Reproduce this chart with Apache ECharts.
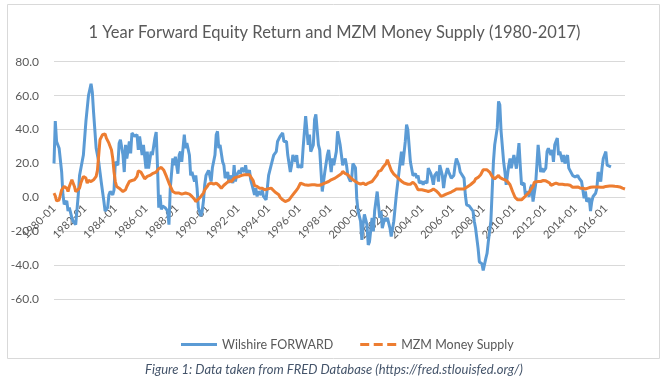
<!DOCTYPE html>
<html>
<head>
<meta charset="utf-8">
<script src="https://cdn.jsdelivr.net/npm/echarts@6/dist/echarts.min.js"></script>
<style>
html,body{margin:0;padding:0;background:#fff;}
#c{width:669px;height:387px;}
</style>
</head>
<body>
<div id="c"></div>
<script>
// x = months since 1980-01
var tickLabels = ['1980-01','1982-01','1984-01','1986-01','1988-01','1990-01','1992-01','1994-01','1996-01','1998-01','2000-01','2002-01','2004-01','2006-01','2008-01','2010-01','2012-01','2014-01','2016-01'];

var wilshireMonths = [0,1,2,4,6,7,8,10,11,12,14,15,17,19,20,21,23,25,27,29,30,31,32,33,35,37,39,40,42,43,44,46,47,48,50,51,52,54,55,56,57,59,60,61,63,65,66,67,69,70,72,73,74,76,77,79,80,81,82,83,84,85,87,88,89,90,91,93,94,95,97,98,99,100,102,103,104,106,107,108,110,111,112,113,115,116,117,118,119,121,122,123,124,126,127,128,129,130,132,133,134,136,137,138,140,141,142,143,145,146,147,149,150,151,153,154,155,157,158,159,160,162,163,164,166,167,168,170,172,174,175,177,179,180,181,182,183,185,186,187,189,190,191,192,194,195,197,199,200,201,203,204,205,207,208,210,211,212,214,215,217,218,219,221,222,224,225,226,228,229,230,232,233,234,236,237,238,240,241,242,243,245,246,247,249,250,251,252,253,255,256,257,259,260,261,263,264,266,268,271,272,273,275,276,277,279,280,281,283,284,285,286,288,289,290,292,293,295,296,297,298,300,301,302,304,305,306,308,309,310,311,313,314,315,317,318,319,321,322,323,325,326,328,329,330,332,333,334,335,336,338,339,340,342,343,344,345,347,348,349,350,352,353,354,356,357,358,359,360,361,362,364,365,366,368,369,370,372,373,374,375,377,378,379,381,382,383,385,386,387,389,390,391,392,394,395,396,398,399,400,402,403,404,406,407,408,410,411,412,413,415,416,417,419,420,421,422,424,425,426,428,429,430,432,433,434,436];
var wilshireValues = [20,45,33,29,15,1.6,-4,-2,-8,-6,-12,-14,-16,1.6,13,14,25,45,60,67,62,50,49,29,21,9,-2,-8,-6,1.6,3.5,1.6,4.5,21,19,32,34,25,15,31,23,33,26,38,36,37,28,36,25,31,17,27,17,27,25,35,38.5,19,-6,1.6,-7,-5,-6,-5,-8,-16,5,23,19,24,14,25,27,21,37,29,32,25,13,15,9.4,13,5.5,-6,-11,-8,-2,7.5,13,16,15,9.4,17.5,25,37,39,29,31,21,19,11.4,15,8.5,13,8.5,19,9.4,13,16,14,17.5,15,19,14,16,10.4,7.5,1.6,5.5,0.6,3.5,1.6,4.5,0.6,-1.4,5.5,13,19,25,27,33,36,38,33,32,33,25,15,19,25,21,25,17.5,19,17.5,29,48,31,37,27,31,46,49,31,28,3.5,9.4,15,25,28,15,23,19,27,39,31,25,19,23,19,13,9.4,11,20,17.5,-0.4,-8,-14,-25,-16,-10,-16,-28,-26,-12,-20,-8,-8,3.5,-12,-8,-18,-12,-14,-12,-18,-23,-14,1.6,21,27,19,33,43,40,21,20,13,14,11.4,13,8.5,9.4,7.5,9.4,8.5,17.3,14,11.4,7.5,13,15,9.4,19,13,5.5,11.4,17.3,15,16,11.4,13,19,23,19,15,16,11.4,1.6,-4.3,-5,-6,-8,-14,-18,-30,-38,-39,-39,-43,-36,-33,-26,-14,3.5,21,31,41,56.6,54.6,39,21,15,7.5,19,23,17.3,21,25,21,17,32,19,7.5,8.5,1.6,3.5,0.6,5.5,7.5,-2.4,7.5,19,31,15,17.3,15,17.3,27,29,25,28,21,31,35,25,27,21,25,20,25,17.3,18,13,14,12,13,11.4,12,9.4,-0.4,3.5,-2.4,-0.4,-8,-2.4,0.6,2.5,5.5,15,9.4,17.3,23,27,19,19,18];

var mzmMonths = [0,1,2,4,5,6,8,10,11,12,14,15,16,17,20,21,23,25,26,27,29,31,33,34,35,36,38,40,41,43,45,46,47,48,49,51,52,54,56,57,59,61,63,65,66,68,70,71,73,75,77,80,82,84,86,88,90,93,95,98,100,103,106,108,110,111,113,115,117,118,120,121,123,125,127,129,131,133,135,137,139,141,143,145,147,149,151,153,154,156,157,159,161,163,165,167,170,171,173,176,177,179,181,182,184,186,187,189,191,193,194,196,199,200,202,204,206,208,210,212,215,217,220,223,225,226,228,230,232,234,236,238,240,242,244,246,247,249,251,253,254,256,258,260,261,262,264,266,268,270,272,274,277,279,281,283,285,286,288,289,291,293,295,297,299,301,303,305,307,309,311,313,315,317,318,321,322,324,326,329,330,332,334,336,337,339,341,343,345,346,348,349,351,353,355,357,359,361,363,364,366,368,370,372,373,375,376,379,381,383,385,388,389,391,393,395,398,400,402,404,406,407,410,412,414,416,418,420,422,424,426,428,430,432,435,437,439,441,443,445,447];
var mzmValues = [2.6,1,-2,-1.5,1.6,4.5,6.5,5.5,3.5,6.5,10.4,11.4,6.5,3.5,5.5,8.5,12.4,11.4,8.5,10,9.4,10.4,12.4,16,25,34,37,37.5,35,32,28,23,15,9.4,6.5,5.5,4.5,3.5,4.5,6.5,9.4,10,10.4,12.4,15.7,15,12.4,11,12.4,13,14,15,17,17.7,16,12.4,8.5,3.5,2.6,2.6,2,2.6,2,0.6,-1,-2.4,-1,0.6,2.6,4.5,6.5,7.8,8.5,7.8,8.5,7.2,5.5,7.2,8.5,9.8,9.4,11.4,12,12.4,13,13.4,13.4,13.4,12.4,9.8,7,6.5,5.5,5.5,4.5,5,5.5,4.5,3.2,1.6,0,-1.4,-2.4,-3,-1.4,0.6,1.6,3.5,5.5,8.5,7.8,7.5,7.2,7.8,7.5,7.5,7.2,7.2,7.8,8.5,9.4,10.4,11.4,13,14,15.3,14,13.4,11.8,10.4,9.4,8.5,7.8,8.5,7.5,8.5,8.5,9.4,11.4,13.4,15.3,16,18.3,20,22.2,20,16,13.8,12.4,11,9.6,8.5,7.8,7.8,9,7.5,4.5,3.5,4.5,5.5,4,3.5,4,5,4,2.6,0.6,1.2,2,2.6,3.2,4,5,5,4.5,5,5.5,6.5,7.5,9.4,11,11.8,13.4,16.3,17.3,16.3,15,12.4,11,11.8,13,11.8,11,10.4,9.4,7.5,3.5,0,-1.4,-2.4,-1.4,0,1.6,3,4.5,6.5,9,9.4,9.4,10,9.8,8.5,7.2,7.8,8.5,7.8,7.8,7.5,7.5,7.2,6,6,6.2,5.5,5.5,5,5.5,6,6.2,6.2,6.2,6,6,6.5,6.8,6.8,6.6,6.5,6.2,5.5,5];

function pairs(xs, ys){ var out=[]; for(var i=0;i<xs.length;i++){ out.push([xs[i], ys[i]]); } return out; }

var FONT = 'Lato, "Open Sans", sans-serif';
var chart = echarts.init(document.getElementById('c'), null, {renderer:'canvas'});
chart.setOption({
  animation:false,
  backgroundColor:'#ffffff',
  title:{
    text:'1 Year Forward Equity Return and MZM Money Supply (1980-2017)',
    left:'center', top:24, padding:0,
    textStyle:{fontFamily:FONT, fontSize:16.5, fontWeight:'normal', color:'#595959'}
  },
  legend:{
    left:176, top:333,
    itemWidth:36, itemHeight:3, itemGap:27, symbolKeepAspect:false,
    textStyle:{fontFamily:FONT, fontSize:12.5, color:'#595959'},
    data:[
      {name:'Wilshire FORWARD', icon:'rect'},
      {name:'MZM Money Supply', icon:'path://M0,0h9v3h-9z M13.5,0h9v3h-9z M27,0h9v3h-9z'}
    ]
  },
  grid:{left:54, right:44, top:61.7, bottom:87.7, containLabel:false},
  xAxis:{
    type:'value', min:0, max:447, interval:24,
    position:'bottom', offset:-101.6,
    axisLine:{show:true, onZero:false, lineStyle:{color:'#D9D9D9', width:1}},
    axisTick:{show:false},
    splitLine:{show:false},
    axisLabel:{
      rotate:45, margin:9, showMaxLabel:false,
      fontFamily:FONT, fontSize:11, color:'#595959',
      formatter:function(v){ return (v % 24 === 0 && v/24 < tickLabels.length) ? tickLabels[v/24] : ''; }
    }
  },
  yAxis:{
    type:'value', min:-60, max:80, interval:20,
    axisLine:{show:false, onZero:false}, axisTick:{show:false},
    splitLine:{lineStyle:{color:'#D9D9D9', width:1}},
    axisLabel:{margin:15, fontFamily:FONT, fontSize:12, color:'#595959',
      formatter:function(v){ return v.toFixed(1); }}
  },
  series:[
    {name:'Wilshire FORWARD', type:'line', data:pairs(wilshireMonths, wilshireValues),
     symbol:'none', lineStyle:{color:'#5B9BD5', width:3}, itemStyle:{color:'#5B9BD5'}},
    {name:'MZM Money Supply', type:'line', data:pairs(mzmMonths, mzmValues),
     symbol:'none', lineStyle:{color:'#ED7D31', width:3}, itemStyle:{color:'#ED7D31'}}
  ],
  graphic:[
    {type:'rect', shape:{x:7.5, y:4.5, width:652, height:354}, style:{fill:'none', stroke:'#D9D9D9', lineWidth:1}, silent:true, z:-1},
    {type:'text', x:334, y:370, style:{text:'Figure 1: Data taken from FRED Database (https://fred.stlouisfed.org/)', textAlign:'center', textVerticalAlign:'middle', font:'italic 13px Lato, "Open Sans", sans-serif', fill:'#44546A'}}
  ]
});
</script>
</body>
</html>
